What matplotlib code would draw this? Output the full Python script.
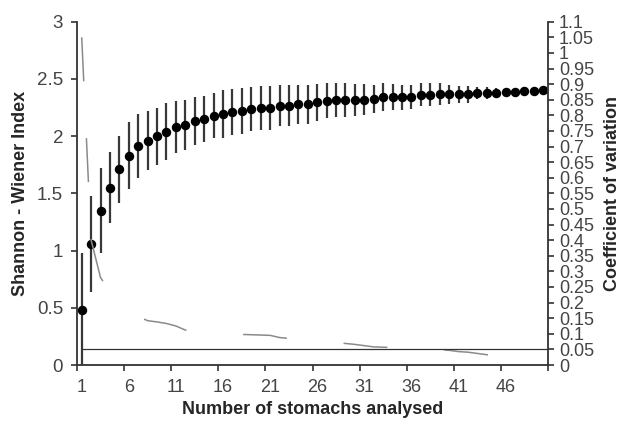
import matplotlib
matplotlib.use("Agg")
import matplotlib.pyplot as plt
import numpy as np

plt.rcParams['font.family'] = ['Liberation Sans', 'DejaVu Sans']
plt.rcParams['lines.scale_dashes'] = False

# ---- data ----
n_stomachs = list(range(1, 51))
shannon_mean = [0.48, 1.06, 1.35, 1.55, 1.71, 1.83, 1.91, 1.96, 2.00, 2.04,
                2.08, 2.10, 2.13, 2.15, 2.18, 2.19, 2.21, 2.22, 2.235, 2.245,
                2.245, 2.265, 2.265, 2.28, 2.28, 2.295, 2.31, 2.315, 2.315, 2.315,
                2.32, 2.325, 2.34, 2.34, 2.34, 2.345, 2.36, 2.36, 2.365, 2.365,
                2.365, 2.365, 2.378, 2.378, 2.378, 2.386, 2.386, 2.395, 2.395, 2.404]
shannon_sd = [0.50, 0.42, 0.37, 0.31, 0.29, 0.29, 0.28, 0.26, 0.25, 0.25,
              0.23, 0.22, 0.21, 0.20, 0.20, 0.21, 0.20, 0.20, 0.19, 0.19,
              0.19, 0.18, 0.18, 0.17, 0.17, 0.16, 0.155, 0.15, 0.145, 0.14,
              0.135, 0.125, 0.12, 0.115, 0.11, 0.105, 0.10, 0.10, 0.095, 0.085,
              0.075, 0.075, 0.05, 0.05, 0.04, 0.03, 0.03, 0.015, 0.01, 0.0]
cv = [1.05, 0.40, 0.28, 0.235, 0.20, 0.175, 0.155, 0.142, 0.138, 0.133,
      0.125, 0.112, 0.107, 0.105, 0.103, 0.101, 0.100, 0.098, 0.097, 0.096,
      0.095, 0.088, 0.085, 0.083, 0.080, 0.077, 0.074, 0.071, 0.069, 0.066,
      0.062, 0.058, 0.057, 0.056, 0.055, 0.054, 0.052, 0.050, 0.049, 0.047,
      0.043, 0.041, 0.037, 0.033, 0.029, 0.027, 0.025, 0.022, 0.020, 0.018]
cv_threshold = 0.05
x_tick_labels = ['1', '6', '11', '16', '21', '26', '31', '36', '41', '46']
left_ticks = [0, 0.5, 1, 1.5, 2, 2.5, 3]
right_ticks = [round(0.05 * i, 2) for i in range(23)]

# ---- figure ----
fig = plt.figure(figsize=(6.33, 4.21), dpi=100)
ax = fig.add_axes([77/633, 1 - 365/421, (548 - 77)/633, (365 - 21.7)/421])
ax2 = ax.twinx()

spine_c = '#333333'
tick_c = '#444444'
title_c = '#262626'

ax.errorbar(n_stomachs, shannon_mean, yerr=shannon_sd, fmt='o', color='black',
            ecolor='#383838', elinewidth=1.6, markersize=5.8, capsize=0, zorder=3)

ax2.plot(n_stomachs, cv, color='#8a8a8a', lw=1.1, dashes=(31.7, 41.0),
         solid_capstyle='butt', dash_capstyle='butt')
ax2.hlines(cv_threshold, n_stomachs[0], n_stomachs[-1] + 0.5, color='#333333', lw=0.9)

ax.set_xlim(0.5, len(n_stomachs) + 0.5)
ax.set_ylim(0, 3)
ax2.set_ylim(0, 1.1)

# x ticks: marks at category boundaries, labels at category centres
ax.set_xticks(np.arange(0.5, len(n_stomachs) + 1, 5))
ax.set_xticklabels([])
ax.set_xticks([int(s) for s in x_tick_labels], minor=True)
ax.set_xticklabels(x_tick_labels, minor=True)
ax.tick_params(axis='x', which='major', direction='out', length=4, width=1.2, color=spine_c)
ax.tick_params(axis='x', which='minor', length=0, pad=10, labelsize=13, labelcolor=tick_c)

ax.set_yticks(left_ticks)
ax.set_yticklabels([f'{t:g}' for t in left_ticks])
ax.tick_params(axis='y', direction='out', length=4, width=1.2, color=spine_c,
               labelsize=13.5, labelcolor=tick_c, pad=6)

ax2.set_yticks(right_ticks)
ax2.set_yticklabels([f'{t:g}' for t in right_ticks])
ax2.tick_params(axis='y', direction='out', length=4, width=1.2, color=spine_c,
                labelsize=13, labelcolor=tick_c, pad=4)

for a in (ax, ax2):
    a.spines['top'].set_visible(False)
    for s in ('left', 'right', 'bottom'):
        a.spines[s].set_color(spine_c)
        a.spines[s].set_linewidth(1.3)
ax.spines['right'].set_visible(False)
ax2.spines['left'].set_visible(False)
ax2.spines['bottom'].set_visible(False)

ax.set_xlabel('Number of stomachs analysed', fontsize=13, fontweight='bold',
              color=title_c, labelpad=4)
ax.set_ylabel('Shannon - Wiener Index', fontsize=13, fontweight='bold',
              color=title_c, labelpad=6)
ax2.set_ylabel('Coefficient of variation', fontsize=13, fontweight='bold',
               color=title_c, labelpad=7)

fig.savefig('out.png', dpi=100)
